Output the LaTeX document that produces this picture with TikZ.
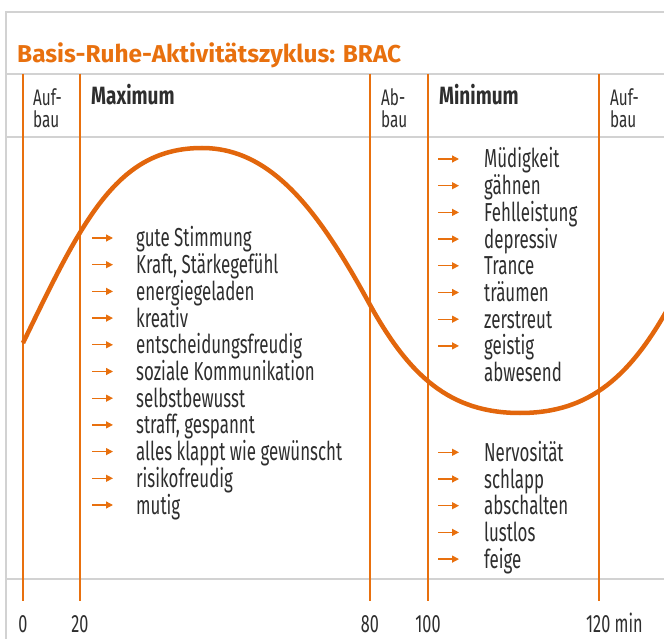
\documentclass[tikz,border=0pt]{standalone}
\usepackage{fontspec}
\setmainfont{Fira Sans}[FakeStretch=0.65]
\newfontfamily\titelfont{Fira Sans}
\newfontfamily\kopffont{Fira Sans}[FakeStretch=0.76]
\newfontfamily\aufbaufont{Fira Sans}[FakeStretch=0.68]
\usetikzlibrary{arrows.meta}
\definecolor{brac}{HTML}{E8700E}
\definecolor{welle}{HTML}{E2660C}
\definecolor{rahmen}{HTML}{D2D2D2}
\definecolor{schrift}{HTML}{2E2E2E}

\begin{document}
\begin{tikzpicture}[x=1pt,y=-1pt,
  rahmen/.style={draw=rahmen, line width=1.6pt},
  spalte/.style={draw=brac, line width=1.4pt},
  welle/.style={draw=welle, line width=4.5pt},
  eintrag/.style={anchor=base west, inner sep=0pt, text=schrift, font=\fontsize{26}{26.7}\selectfont},
  kopf/.style={anchor=base west, inner sep=0pt, text=schrift, font=\kopffont\fontsize{25}{26}\selectfont\bfseries},
  aufbau/.style={anchor=north west, inner sep=0pt, align=left, text=schrift, font=\aufbaufont\fontsize{22.5}{22}\selectfont},
  zeit/.style={anchor=base, inner sep=0pt, text=schrift, font=\fontsize{25}{26}\selectfont},
  pfeil/.style={draw=brac, line width=1.3pt, -{Triangle[length=7pt,width=7pt]}}
]
\useasboundingbox (0,0) rectangle (664,639);

% Rahmen
\draw[rahmen] (6,639) -- (6,12) -- (664,12);
\foreach \y in {74,137,579} \draw[rahmen] (6,\y) -- (664,\y);

% Spalten
\foreach \x/\n in {23/0,80/20,370/80,428/100,599/120} {
  \coordinate (oben\n) at (\x,74);
  \coordinate (unten\n) at (\x,601);
  \draw[spalte] (oben\n) -- (unten\n);
}

% Zyklus
\draw[welle] (23,343) .. controls (83,219) and (117,148) .. (202,148)
  .. controls (272,148) and (319,211.5) .. (369,303)
  .. controls (409,376) and (450,413) .. (520,413)
  .. controls (590,413) and (631,376) .. (671,303);

% Titel und Kopf
\node[anchor=base west, inner sep=0pt, text=brac, font=\titelfont\fontsize{24.4}{26}\selectfont\bfseries] (titel) at (17,63) {Basis-Ruhe-Aktivitätszyklus: BRAC};
\node[aufbau] (auf1) at (33,88) {Auf-\\bau};
\node[kopf] (max) at (91,105) {Maximum};
\node[aufbau] (ab) at (381,88) {Ab-\\bau};
\node[kopf] (min) at (439,105) {Minimum};
\node[aufbau] (auf2) at (610,88) {Auf-\\bau};

% Maximum
\foreach \t [count=\i] in {gute Stimmung, {Kraft, Stärkegefühl}, energiegeladen, kreativ, entscheidungsfreudig, soziale Kommunikation, selbstbewusst, {straff, gespannt}, alles klappt wie gewünscht, risikofreudig, mutig} {
  \node[eintrag] (M\i) at (136,220.3+26.7*\i) {\t};
  \draw[pfeil] ([xshift=-44pt,yshift=9pt]M\i.base west) -- ++(21,0);
}

% Minimum
\foreach \t [count=\i] in {Müdigkeit, gähnen, Fehlleistung, depressiv, Trance, träumen, zerstreut, geistig} {
  \node[eintrag] (N\i) at (484,141.3+26.7*\i) {\t};
  \draw[pfeil] ([xshift=-46pt,yshift=9pt]N\i.base west) -- ++(21,0);
}
\node[eintrag] (N9) at ([yshift=-26.7pt]N8.base west) {abwesend};
\foreach \t [count=\i from 10] in {Nervosität, schlapp, abschalten, lustlos, feige} {
  \node[eintrag] (N\i) at (484,194.3+26.7*\i) {\t};
  \draw[pfeil] ([xshift=-46pt,yshift=9pt]N\i.base west) -- ++(21,0);
}

% Zeitachse
\foreach \n in {0,20,80,100} \node[zeit] (Z\n) at ([yshift=-31pt]unten\n) {\n};
\node[zeit, anchor=base west] (Z120) at ([xshift=-13pt,yshift=-31pt]unten120) {120 min};
\end{tikzpicture}
\end{document}
